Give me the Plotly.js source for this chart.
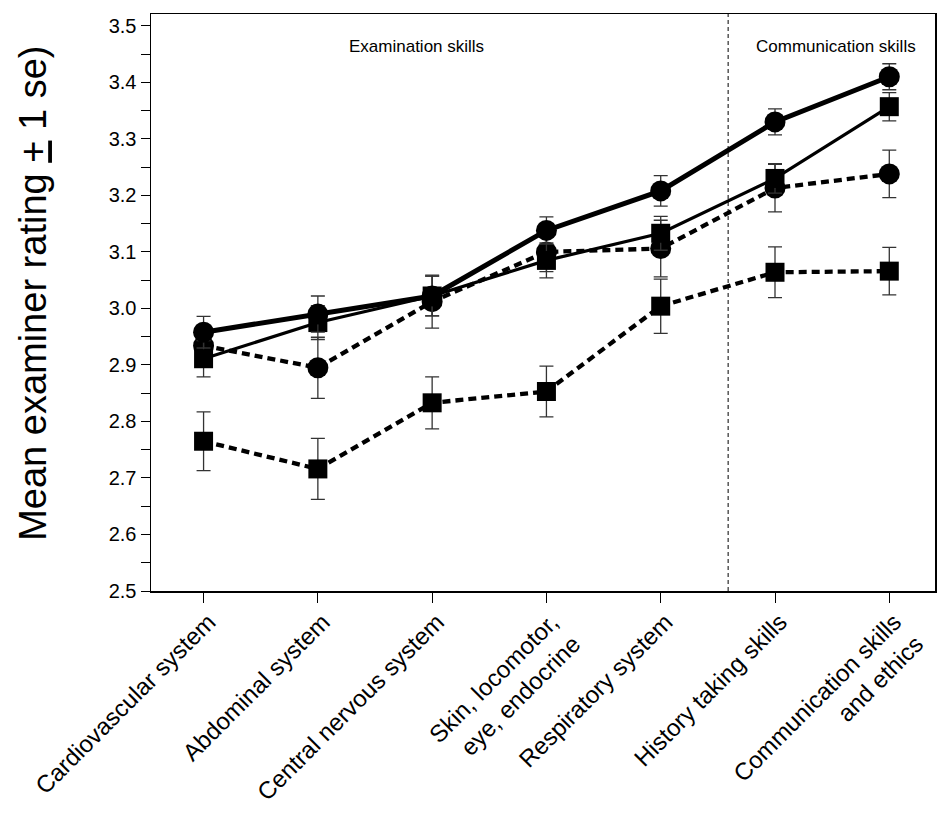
<!DOCTYPE html>
<html><head><meta charset="utf-8">
<script src="https://cdn.plot.ly/plotly-3.0.1.min.js"></script>
<style>html,body{margin:0;padding:0;background:#fff}#chart{width:945px;height:814px}</style>
</head><body><div id="chart"></div>
<script>
const categories = ["Cardiovascular system", "Abdominal system", "Central nervous system",
  "Skin, locomotor,<br>eye, endocrine", "Respiratory system", "History taking skills",
  "Communication skills<br>and ethics"];
const xIndex = [0, 1, 2, 3, 4, 5, 6];

// Series: mean rating and 1 se
const seriesA = [2.958, 2.990, 3.022, 3.138, 3.208, 3.330, 3.410];   // thick solid, circles
const seA     = [0.028, 0.032, 0.035, 0.024, 0.027, 0.023, 0.023];
const seriesB = [2.911, 2.975, 3.022, 3.085, 3.133, 3.230, 3.357];   // thin solid, squares
const seB     = [0.032, 0.030, 0.035, 0.031, 0.030, 0.026, 0.025];
const seriesC = [2.934, 2.895, 3.012, 3.100, 3.106, 3.213, 3.238];   // dashed, circles
const seC     = [0.035, 0.054, 0.047, 0.035, 0.050, 0.042, 0.042];
const seriesD = [2.765, 2.716, 2.833, 2.853, 3.004, 3.064, 3.066];   // dashed, squares
const seD     = [0.052, 0.054, 0.046, 0.045, 0.048, 0.045, 0.042];

const yTickVals = [2.5, 2.6, 2.7, 2.8, 2.9, 3.0, 3.1, 3.2, 3.3, 3.4, 3.5];
const sectionLabels = ["Examination skills", "Communication skills"];
const sectionX = [1.865, 5.53];
const dividerX = 4.59;

function err(arr) {
  return {type: 'data', array: arr, visible: true, color: '#333', thickness: 1.3, width: 7};
}
function trace(y, e, symbol, size, dash, width, name) {
  return {
    x: xIndex, y: y, type: 'scatter', mode: 'lines+markers', name: name,
    line: {color: '#000', width: width, dash: dash},
    marker: {symbol: symbol, size: size, color: '#000'},
    error_y: err(e), hoverinfo: 'x+y'
  };
}

const data = [
  trace(seriesD, seD, 'square', 19, '8px,5px', 4.3, 'Series D'),
  trace(seriesC, seC, 'circle', 21, '8px,5px', 4.3, 'Series C'),
  trace(seriesB, seB, 'square', 19, 'solid', 3.2, 'Series B'),
  trace(seriesA, seA, 'circle', 21, 'solid', 5, 'Series A')
];

const layout = {
  width: 945, height: 814,
  margin: {l: 151, r: 10, t: 14, b: 223},
  paper_bgcolor: '#fff', plot_bgcolor: '#fff',
  showlegend: false,
  font: {family: 'Arial, "Liberation Sans", sans-serif', color: '#000'},
  xaxis: {
    range: [-0.46, 6.4], tickmode: 'array', tickvals: xIndex, ticktext: categories,
    tickangle: -45, ticks: 'outside', ticklen: 10, tickwidth: 1, tickcolor: '#000',
    ticklabelshift: 5, ticklabelstandoff: -4,
    showline: true, linecolor: '#000', linewidth: 1.5, mirror: true,
    showgrid: false, zeroline: false, tickfont: {size: 24}
  },
  yaxis: {
    range: [2.5, 3.521], tickmode: 'array', tickvals: yTickVals,
    tickformat: '.1f', ticks: 'outside', ticklen: 9, tickwidth: 1, tickcolor: '#000',
    minor: {dtick: 0.05, tick0: 2.5, ticks: 'outside', ticklen: 9, tickwidth: 1, tickcolor: '#000', showgrid: false},
    showline: true, linecolor: '#000', linewidth: 1.5, mirror: true,
    showgrid: false, zeroline: false, tickfont: {size: 20}
  },
  shapes: [{
    type: 'line', xref: 'x', yref: 'paper', x0: dividerX, x1: dividerX, y0: 0, y1: 1,
    line: {color: '#000', width: 1, dash: '4px,3px'}
  }],
  annotations: [
    {x: sectionX[0], y: 3.463, xref: 'x', yref: 'y', text: sectionLabels[0], showarrow: false,
     font: {size: 17}, xanchor: 'center', yanchor: 'middle'},
    {x: sectionX[1], y: 3.463, xref: 'x', yref: 'y', text: sectionLabels[1], showarrow: false,
     font: {size: 17}, xanchor: 'center', yanchor: 'middle'},
    {x: -0.1505, y: 0.515, xref: 'paper', yref: 'paper', text: 'Mean examiner rating <u>+</u> 1 se)',
     textangle: -90, showarrow: false, font: {size: 38}, xanchor: 'center', yanchor: 'middle'}
  ]
};

Plotly.newPlot('chart', data, layout, {displayModeBar: false, staticPlot: true});
</script>
</body></html>
